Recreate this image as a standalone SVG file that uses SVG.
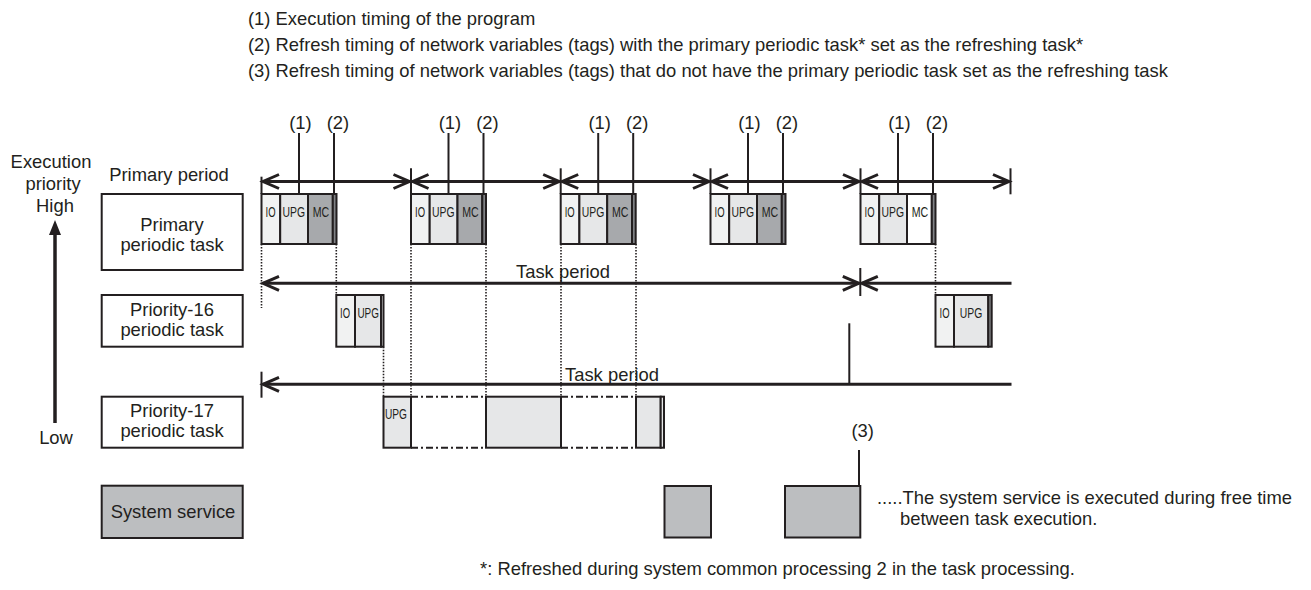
<svg xmlns="http://www.w3.org/2000/svg" width="1311" height="590" viewBox="0 0 1311 590">
<style>
.t{font-family:"Liberation Sans",Arial,Helvetica,sans-serif;font-size:18.4px;fill:#231f20}
.m{text-anchor:middle}
.s{font-family:"Liberation Sans",Arial,Helvetica,sans-serif;font-size:15px;fill:#231f20;text-anchor:middle}
.bx{stroke:#231f20;stroke-width:2}
.lb{fill:#ffffff;stroke:#231f20;stroke-width:2}
.io{fill:#f1f2f2}.upg{fill:#e6e7e8}.mc{fill:#a7a9ac}.wh{fill:#ffffff}.st{fill:#808285}.ss{fill:#bcbec0}
.dot{stroke:#231f20;stroke-width:1.6;stroke-dasharray:1.6 1.4;fill:none}
.dd{stroke:#231f20;stroke-width:2;stroke-dasharray:7 3 2 3;fill:none}
.arr{stroke:#231f20;stroke-width:3;fill:none}
.ln{stroke:#231f20;stroke-width:2;fill:none}
</style>
<defs>
<marker id="chev" markerUnits="userSpaceOnUse" viewBox="-2 -10 22 20" refX="16" refY="0" markerWidth="22" markerHeight="20" orient="auto-start-reverse">
<path d="M0,-7 L16,0 L0,7" fill="none" stroke="#231f20" stroke-width="3"/>
</marker>
</defs>

<g id="legend">
<text class="t" x="248" y="25">(1) Execution timing of the program</text>
<text class="t" x="248" y="51">(2) Refresh timing of network variables (tags) with the primary periodic task* set as the refreshing task*</text>
<text class="t" x="248" y="77">(3) Refresh timing of network variables (tags) that do not have the primary periodic task set as the refreshing task</text>
</g>

<g id="priority-axis">
<text class="t m" x="51" y="168">Execution</text>
<text class="t m" x="53" y="190">priority</text>
<text class="t m" x="55" y="211.5">High</text>
<polygon points="55,220 49,235 61,235" fill="#231f20"/>
<line x1="55" y1="234" x2="55" y2="423" stroke="#231f20" stroke-width="3.5"/>
<text class="t m" x="56" y="444">Low</text>
</g>

<g id="primary-period-label"><text class="t m" x="169" y="180.5">Primary period</text></g>

<g id="lbl-primary">
<rect class="lb" x="101.7" y="194" width="141" height="76"/>
<text class="t m" x="172" y="230.5">Primary</text>
<text class="t m" x="172" y="250.5">periodic task</text>
</g>
<g id="lbl-p16">
<rect class="lb" x="101.7" y="295" width="141" height="51.7"/>
<text class="t m" x="172" y="316">Priority-16</text>
<text class="t m" x="172" y="335.5">periodic task</text>
</g>
<g id="lbl-p17">
<rect class="lb" x="101.7" y="396.7" width="141" height="51"/>
<text class="t m" x="172" y="416.5">Priority-17</text>
<text class="t m" x="172" y="436.5">periodic task</text>
</g>
<g id="lbl-sys">
<rect class="bx ss" x="101.7" y="485.7" width="141" height="52.3"/>
<text class="t m" x="173" y="518">System service</text>
</g>

<!-- Primary periodic task executions -->
<g id="pp1">
<rect class="bx io" x="261.5" y="194" width="18.7" height="50"/>
<rect class="bx upg" x="280.2" y="194" width="27.8" height="50"/>
<rect class="bx mc" x="308" y="194" width="24.8" height="50"/>
<rect class="bx st" x="332.8" y="194" width="3.7" height="50"/>
<text class="s" x="270.5" y="216.5" textLength="10" lengthAdjust="spacingAndGlyphs">IO</text>
<text class="s" x="293.8" y="216.5" textLength="22.5" lengthAdjust="spacingAndGlyphs">UPG</text>
<text class="s" x="321" y="216.5" textLength="16.5" lengthAdjust="spacingAndGlyphs">MC</text>
</g>
<g id="pp2">
<rect class="bx io" x="411" y="194" width="18.7" height="50"/>
<rect class="bx upg" x="429.7" y="194" width="27.8" height="50"/>
<rect class="bx mc" x="457.5" y="194" width="24.8" height="50"/>
<rect class="bx st" x="482.3" y="194" width="3.7" height="50"/>
<text class="s" x="420" y="216.5" textLength="10" lengthAdjust="spacingAndGlyphs">IO</text>
<text class="s" x="443.3" y="216.5" textLength="22.5" lengthAdjust="spacingAndGlyphs">UPG</text>
<text class="s" x="470.5" y="216.5" textLength="16.5" lengthAdjust="spacingAndGlyphs">MC</text>
</g>
<g id="pp3">
<rect class="bx io" x="560.7" y="194" width="18.7" height="50"/>
<rect class="bx upg" x="579.4" y="194" width="27.8" height="50"/>
<rect class="bx mc" x="607.2" y="194" width="24.8" height="50"/>
<rect class="bx st" x="632" y="194" width="3.7" height="50"/>
<text class="s" x="569.7" y="216.5" textLength="10" lengthAdjust="spacingAndGlyphs">IO</text>
<text class="s" x="593" y="216.5" textLength="22.5" lengthAdjust="spacingAndGlyphs">UPG</text>
<text class="s" x="620.2" y="216.5" textLength="16.5" lengthAdjust="spacingAndGlyphs">MC</text>
</g>
<g id="pp4">
<rect class="bx io" x="710.5" y="194" width="18.7" height="50"/>
<rect class="bx upg" x="729.2" y="194" width="27.8" height="50"/>
<rect class="bx mc" x="757" y="194" width="24.8" height="50"/>
<rect class="bx st" x="781.8" y="194" width="3.7" height="50"/>
<text class="s" x="719.5" y="216.5" textLength="10" lengthAdjust="spacingAndGlyphs">IO</text>
<text class="s" x="742.8" y="216.5" textLength="22.5" lengthAdjust="spacingAndGlyphs">UPG</text>
<text class="s" x="770" y="216.5" textLength="16.5" lengthAdjust="spacingAndGlyphs">MC</text>
</g>
<g id="pp5">
<rect class="bx io" x="860.5" y="194" width="18.7" height="50"/>
<rect class="bx upg" x="879.2" y="194" width="27.8" height="50"/>
<rect class="bx wh" x="907" y="194" width="24.8" height="50"/>
<rect class="bx st" x="931.8" y="194" width="3.7" height="50"/>
<text class="s" x="869.5" y="216.5" textLength="10" lengthAdjust="spacingAndGlyphs">IO</text>
<text class="s" x="892.8" y="216.5" textLength="22.5" lengthAdjust="spacingAndGlyphs">UPG</text>
<text class="s" x="920" y="216.5" textLength="16.5" lengthAdjust="spacingAndGlyphs">MC</text>
</g>

<!-- Priority-16 executions -->
<g id="p16-1">
<rect class="bx io" x="336.3" y="295" width="18.7" height="51.7"/>
<rect class="bx upg" x="355" y="295" width="26" height="51.7"/>
<rect class="bx upg" x="381" y="295" width="2.5" height="51.7"/>
<text class="s" x="345" y="318.3" textLength="10" lengthAdjust="spacingAndGlyphs">IO</text>
<text class="s" x="368.2" y="318.3" textLength="21.5" lengthAdjust="spacingAndGlyphs">UPG</text>
</g>
<g id="p16-2">
<rect class="bx io" x="935.5" y="295" width="18.5" height="51.7"/>
<rect class="bx upg" x="954" y="295" width="34.3" height="51.7"/>
<rect class="bx st" x="988.3" y="295" width="3.4" height="51.7"/>
<text class="s" x="944.5" y="318.3" textLength="10" lengthAdjust="spacingAndGlyphs">IO</text>
<text class="s" x="971" y="318.3" textLength="22.5" lengthAdjust="spacingAndGlyphs">UPG</text>
</g>

<!-- Priority-17 executions -->
<g id="p17-1">
<rect class="bx upg" x="383.5" y="396.7" width="27.5" height="51"/>
<text class="s" x="396" y="419.3" textLength="22" lengthAdjust="spacingAndGlyphs">UPG</text>
</g>
<g id="p17-2"><rect class="bx upg" x="486" y="396.7" width="75" height="51"/></g>
<g id="p17-3">
<rect class="bx upg" x="636" y="396.7" width="24.7" height="51"/>
<rect class="bx upg" x="660.7" y="396.7" width="3.3" height="51"/>
</g>

<!-- System service executions -->
<g id="sys-1"><rect class="bx ss" x="664.5" y="486" width="46.5" height="51.5"/></g>
<g id="sys-2"><rect class="bx ss" x="785" y="486" width="75.3" height="51.5"/></g>

<g id="notes">
<text class="t m" x="300.5" y="129">(1)</text>
<text class="t m" x="338" y="129">(2)</text>
<text class="t m" x="450" y="129">(1)</text>
<text class="t m" x="487.5" y="129">(2)</text>
<text class="t m" x="599.7" y="129">(1)</text>
<text class="t m" x="637.2" y="129">(2)</text>
<text class="t m" x="749.5" y="129">(1)</text>
<text class="t m" x="787" y="129">(2)</text>
<text class="t m" x="899.5" y="129">(1)</text>
<text class="t m" x="937" y="129">(2)</text>
<text class="t m" x="862.7" y="436.5">(3)</text>
<text class="t" x="516" y="278">Task period</text>
<text class="t" x="565" y="381">Task period</text>
<text class="t" x="877" y="504">.....The system service is executed during free time</text>
<text class="t" x="900" y="525">between task execution.</text>
<text class="t" x="480" y="575">*: Refreshed during system common processing 2 in the task processing.</text>
</g>

<g id="connectors">
<!-- label pointer lines -->
<line class="ln" x1="299" y1="133" x2="299" y2="194"/>
<line class="ln" x1="334" y1="133" x2="334" y2="194"/>
<line class="ln" x1="448.5" y1="133" x2="448.5" y2="194"/>
<line class="ln" x1="483.5" y1="133" x2="483.5" y2="194"/>
<line class="ln" x1="598.2" y1="133" x2="598.2" y2="194"/>
<line class="ln" x1="633.2" y1="133" x2="633.2" y2="194"/>
<line class="ln" x1="748" y1="133" x2="748" y2="194"/>
<line class="ln" x1="783" y1="133" x2="783" y2="194"/>
<line class="ln" x1="898" y1="133" x2="898" y2="194"/>
<line class="ln" x1="933" y1="133" x2="933" y2="194"/>
<line class="ln" x1="859" y1="450" x2="859" y2="486"/>
<!-- period ticks -->
<line class="ln" x1="261.5" y1="176.7" x2="261.5" y2="194"/>
<line class="ln" x1="411" y1="168.3" x2="411" y2="194"/>
<line class="ln" x1="560.7" y1="168.3" x2="560.7" y2="194"/>
<line class="ln" x1="710.5" y1="168.3" x2="710.5" y2="194"/>
<line class="ln" x1="860.5" y1="168.3" x2="860.5" y2="194"/>
<line class="ln" x1="1010.5" y1="168.3" x2="1010.5" y2="194.3"/>
<line class="ln" x1="860.3" y1="268" x2="860.3" y2="296"/>
<line class="ln" x1="261.5" y1="371.7" x2="261.5" y2="397.7"/>
<line class="ln" x1="849.3" y1="323.3" x2="849.3" y2="384.3"/>
<!-- primary period arrows -->
<line class="arr" x1="263" y1="181.5" x2="409.5" y2="181.5" marker-start="url(#chev)" marker-end="url(#chev)"/>
<line class="arr" x1="412.5" y1="181.5" x2="559.2" y2="181.5" marker-start="url(#chev)" marker-end="url(#chev)"/>
<line class="arr" x1="562.2" y1="181.5" x2="709" y2="181.5" marker-start="url(#chev)" marker-end="url(#chev)"/>
<line class="arr" x1="712" y1="181.5" x2="859" y2="181.5" marker-start="url(#chev)" marker-end="url(#chev)"/>
<line class="arr" x1="862" y1="181.5" x2="1009" y2="181.5" marker-start="url(#chev)" marker-end="url(#chev)"/>
<!-- task period arrows -->
<line class="arr" x1="263" y1="283.3" x2="858.8" y2="283.3" marker-start="url(#chev)" marker-end="url(#chev)"/>
<line class="arr" x1="861.8" y1="283.3" x2="1011.5" y2="283.3" marker-start="url(#chev)"/>
<line class="arr" x1="263" y1="384.3" x2="1011.5" y2="384.3" marker-start="url(#chev)"/>
<!-- dotted timing lines -->
<line class="dot" x1="261.5" y1="244" x2="261.5" y2="308"/>
<line class="dot" x1="336.3" y1="244" x2="336.3" y2="295"/>
<line class="dot" x1="383.5" y1="346.7" x2="383.5" y2="396.7"/>
<line class="dot" x1="411" y1="244" x2="411" y2="396.7"/>
<line class="dot" x1="486" y1="244" x2="486" y2="396.7"/>
<line class="dot" x1="561" y1="244" x2="561" y2="396.7"/>
<line class="dot" x1="636" y1="244" x2="636" y2="396.7"/>
<line class="dot" x1="935.5" y1="244" x2="935.5" y2="295"/>
<!-- dash-dot suspended intervals -->
<line class="dd" x1="411" y1="396.7" x2="486" y2="396.7"/>
<line class="dd" x1="411" y1="447.7" x2="486" y2="447.7"/>
<line class="dd" x1="561" y1="396.7" x2="636" y2="396.7"/>
<line class="dd" x1="561" y1="447.7" x2="636" y2="447.7"/>
</g>
</svg>
